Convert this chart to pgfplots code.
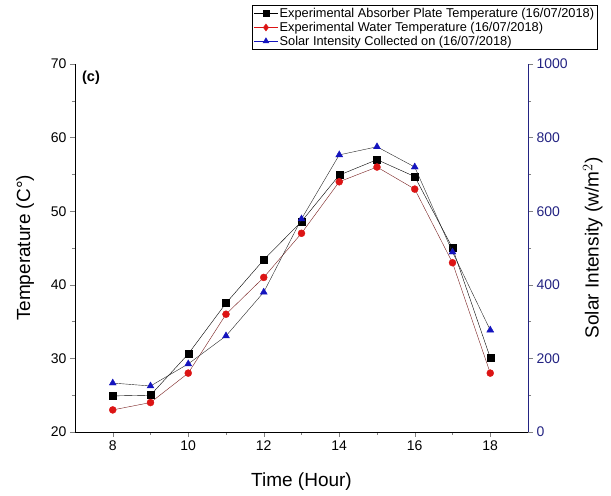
\documentclass[border=0pt]{standalone}
\usepackage{fontspec}
\setmainfont{Liberation Sans}
\usepackage{pgfplots}
\pgfplotsset{compat=1.18}
\definecolor{navyax}{RGB}{35,35,130}
\definecolor{mred}{RGB}{220,20,20}
\definecolor{mblue}{RGB}{20,20,190}
\definecolor{lred}{RGB}{120,30,30}

\begin{document}
\begin{tikzpicture}
\pgfplotsset{
  common/.style={
    scale only axis, width=453pt, height=368pt,
    xmin=7, xmax=19,
    tick label style={font=\fontsize{14}{16}\selectfont},
    /pgf/number format/assume math mode=true,
    /pgf/number format/1000 sep={},
    tick align=outside, major tick length=5pt, minor tick length=3pt,
    label style={font=\fontsize{19}{22}\selectfont},
  }
}
\begin{axis}[common, name=ax,
  axis y line*=left, axis x line*=bottom,
  ymin=20, ymax=70, ytick={20,30,...,70}, minor y tick num=1,
  xtick={8,10,...,18}, minor x tick num=1,
  xlabel={Time (Hour)}, ylabel={Temperature (C°)},
  xlabel style={at={(axis description cs:0.5,-0.136)}, anchor=center},
  ylabel style={at={(axis description cs:-0.110,0.5)}, anchor=center},
]
  \addplot[black, thin, mark=square*, mark size=3.5pt] coordinates {
    (8,24.9)(9,25)(10,30.6)(11,37.5)(12,43.4)(13,48.6)(14,54.9)(15,57)(16,54.7)(17,45)(18,30.1)};
  \addplot[lred, thin, mark=*, mark size=3.5pt, mark options={fill=mred, draw=mred}] coordinates {
    (8,23)(9,24)(10,28)(11,36)(12,41)(13,47)(14,54)(15,56)(16,53)(17,43)(18,28)};
  \node[anchor=north west, font=\bfseries\fontsize{14.5}{16}\selectfont] at (axis description cs:0.008,0.99) {(c)};
\end{axis}
\begin{axis}[common,
  axis y line*=right, axis x line=none,
  axis line style={navyax},
  ymin=0, ymax=1000, ytick={0,200,...,1000}, minor y tick num=1,
  yticklabel style={text=navyax},
  ylabel={Solar Intensity (w/m$^{2}$)},
  ylabel style={at={(axis description cs:1.143,0.5)}, anchor=center},
  legend style={at={(axis description cs:0.391,1.160)}, anchor=north west,
    draw=black, font=\fontsize{12.8}{14.5}\selectfont, row sep=0pt,
    inner sep=1.5pt, legend cell align=left,
    nodes={inner sep=1.5pt}},
  legend image code/.code={
    \draw[mark repeat=2,mark phase=2,#1] plot coordinates {(0cm,0cm) (0.42cm,0cm) (0.84cm,0cm)};},
]
  \addlegendimage{black, mark=square*, mark size=3pt}
  \addlegendentry{Experimental Absorber Plate Temperature (16/07/2018)}
  \addlegendimage{mred, mark=diamond*, mark size=3.5pt}
  \addlegendentry{Experimental Water Temperature (16/07/2018)}
  \addlegendimage{mblue, mark=triangle*, mark size=3.5pt}
  \addlegendentry{Solar Intensity Collected on (16/07/2018)}
  \addplot[black!85, thin, mark=triangle*, mark size=4pt, mark options={fill=mblue, draw=mblue}, forget plot] coordinates {
    (8,133)(9,125)(10,185)(11,261)(12,380)(13,579)(14,753)(15,775)(16,720)(17,489)(18,277)};
\end{axis}
\pgfresetboundingbox
\useasboundingbox ([xshift=-75pt,yshift=-64pt]ax.south west) rectangle ([xshift=83pt,yshift=64pt]ax.north east);
\end{tikzpicture}
\end{document}
